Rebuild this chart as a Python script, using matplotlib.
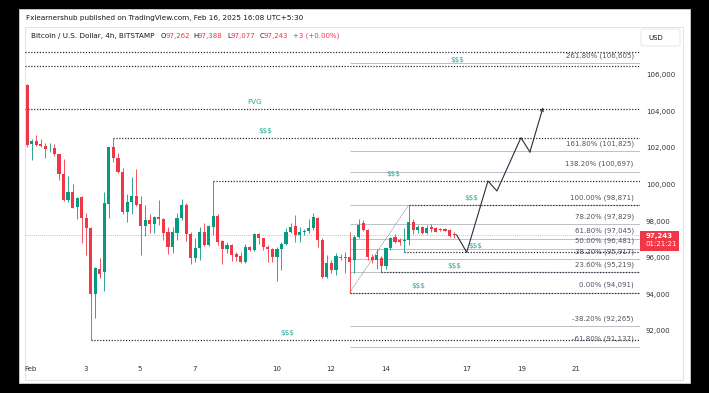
import numpy as np
import matplotlib.pyplot as plt
from matplotlib.patches import Rectangle, FancyBboxPatch

plt.rcParams['font.family'] = ['DejaVu Sans']
plt.rcParams['text.parse_math'] = False

W, H = 709, 393

# 4h candles, BTC/USD Bitstamp, starting Jan 31 late evening
opens = [105450, 102190, 102370, 102190, 102110, 101970, 102010, 101640, 100570, 99130,
         99570, 98790, 99330, 98150, 97640, 94040, 95380, 95200, 98930, 102030,
         101420, 100660, 98480, 99060, 99390, 98910, 97730, 98060, 97840, 98240,
         98090, 97420, 96570, 97330, 98150, 98880, 97290, 95960, 96510, 97420,
         96690, 97690, 98270, 96910, 96470, 96690, 96180, 96090, 95780, 96560,
         96420, 97290, 97060, 96600, 96470, 96020, 96470, 96750, 97420, 97730,
         97240, 97380, 97460, 97600, 98180, 96970, 94960, 95690, 95330, 96060,
         95970, 96060, 95900, 97150, 97870, 97510, 96060, 95900, 95970, 95550,
         96510, 97150, 96960, 96900, 96980, 97970, 97510, 97660, 97370, 97650,
         97600, 97550, 97550, 97510, 97262]
highs = [105500, 102480, 102700, 102480, 102240, 102240, 102210, 101680, 101390, 100460,
         100000, 99330, 99390, 98420, 97700, 95500, 95980, 99600, 102050, 102550,
         101700, 100880, 99460, 100420, 100820, 99390, 98880, 98370, 98290, 99150,
         98150, 97650, 97660, 98460, 99190, 99000, 97400, 97060, 97660, 97880,
         97760, 100200, 98380, 96970, 96870, 96750, 96330, 96330, 96750, 96640,
         97330, 97370, 97100, 96690, 96520, 96560, 96870, 97600, 97910, 98330,
         97660, 97550, 98090, 98460, 98240, 97060, 96150, 95900, 96250, 96200,
         96330, 97380, 97240, 98090, 98060, 97560, 96200, 96450, 96100, 96550,
         97150, 97300, 97050, 97600, 98871, 98100, 97800, 97750, 97800, 97850,
         97700, 97620, 97620, 97560, 97388]
lows = [102050, 101330, 102120, 102060, 101420, 101750, 101570, 100240, 99090, 99020,
        98690, 98110, 96780, 96150, 91500, 92720, 94870, 94200, 98150, 101250,
        100600, 98370, 97930, 98370, 98820, 96150, 97200, 97330, 97330, 97780,
        96960, 96180, 96270, 96960, 98060, 96930, 95650, 95780, 95870, 96640,
        96640, 97240, 96690, 95640, 96240, 95840, 95840, 95690, 95690, 96380,
        96380, 96750, 96420, 95780, 95780, 94730, 95330, 96690, 97360, 96870,
        96870, 97240, 97370, 97510, 96600, 94900, 94900, 95150, 95050, 95850,
        95150, 94091, 95150, 97100, 97450, 95870, 95700, 95400, 95200, 95400,
        96400, 96800, 96700, 96300, 96700, 97300, 97350, 97300, 97300, 97420,
        97380, 97450, 97430, 97150, 97077]
closes = [102150, 102390, 102150, 102100, 101930, 102010, 101640, 100570, 99130, 99600,
          98730, 99280, 98150, 97600, 94040, 95450, 95130, 98990, 102030, 101420,
          100660, 98480, 99020, 99390, 98880, 97730, 98060, 97840, 98240, 98110,
          97330, 96570, 97380, 98150, 98880, 97290, 95960, 96510, 97420, 96690,
          97730, 98270, 96870, 96460, 96690, 96150, 96020, 95780, 96560, 96420,
          97290, 97060, 96570, 96470, 96020, 96470, 96750, 97420, 97660, 97240,
          97380, 97460, 97600, 98240, 96970, 94960, 95690, 95330, 96110, 95970,
          96060, 95780, 97150, 97780, 97510, 96060, 95880, 96150, 95550, 96510,
          97050, 96870, 96870, 96980, 97970, 97510, 97690, 97370, 97640, 97560,
          97420, 97500, 97470, 97190, 97243]
first_day = 0.86          # day-of-February of candle 0
candle_step = 1 / 6       # 4 hours

# fib retracement (swing low candle 71 -> swing high candle 84)
fib_pcts = ['-61.80%', '-38.20%', '0.00%', '23.60%', '38.20%', '50.00%', '61.80%',
            '78.20%', '100.00%', '138.20%', '161.80%', '261.80%']
fib_prices = [91137, 92265, 94091, 95219, 95917, 96481, 97045, 97829, 98871,
              100697, 101825, 106605]
fib_from, fib_to = 71, 84

# liquidity levels: price, candle where the line starts (None = whole chart), label
liq_prices = [107250, 106450, 104117, 102550, 100200, 98871, 96300, 95200, 94091, 91500]
liq_start = [None, None, None, 19, 41, 84, 83, 78, 71, 14]
liq_label = ['', '$$$', 'FVG', '$$$', '$$$', '$$$', '$$$', '$$$', '$$$', '$$$']
liq_label_day = [None, 16.63, 9.2, 9.6, 14.3, 17.15, 17.3, 16.52, 15.2, 10.4]

# projected path
proj_days = [16.62, 16.99, 17.77, 18.10, 18.98, 19.31, 19.79]
proj_prices = [97243, 96293, 100186, 99640, 102550, 101770, 104200]

last_price = 97243
price_ticks = [92000, 94000, 96000, 98000, 100000, 102000, 104000, 106000]
date_ticks = [1, 3, 5, 7, 10, 12, 14, 17, 19, 21]
date_labels = ['Feb', '3', '5', '7', '10', '12', '14', '17', '19', '21']

UP, DOWN = '#089981', '#F23645'
TEAL = '#22ab94'
TXT = '#131722'
FS = 5.0


def fx(px):
    return px / W


def fy(py):
    return 1 - py / H


fig = plt.figure(figsize=(W / 100, H / 100), dpi=100, facecolor='black')
fig.add_artist(Rectangle((fx(19), fy(383)), fx(690) - fx(19), fy(9) - fy(383),
                         transform=fig.transFigure, facecolor='white', edgecolor='#cfd2d9',
                         lw=0.6, zorder=-20))
fig.add_artist(Rectangle((fx(25), fy(380)), fx(683) - fx(25), fy(27) - fy(380),
                         transform=fig.transFigure, facecolor='white', edgecolor='#e0e3eb',
                         lw=0.7, zorder=-19))

ax = fig.add_axes([fx(25), fy(358), fx(640) - fx(25), fy(28) - fy(358)])
ax.set_facecolor('none')
for s in ax.spines.values():
    s.set_visible(False)
xmin, xmax = 0.78, 23.35
ax.set_xlim(xmin, xmax)
ax.set_ylim(90522, 108540)

o = np.array(opens, float)
h = np.array(highs, float)
l = np.array(lows, float)
c = np.array(closes, float)
days = first_day + np.arange(len(o)) * candle_step
cols = np.where(c >= o, UP, DOWN)

# current price line
ax.axhline(last_price, color=DOWN, lw=0.6, ls=(0, (1, 1.5)), alpha=0.55, zorder=1)

# fib lines
f0 = days[fib_from]
for pct, p in zip(fib_pcts, fib_prices):
    ax.hlines(p, f0, xmax, colors='#b2b5be', lw=0.6, zorder=1)
    ax.text(23.12, p + 420, f'{pct} ({p:,})', ha='right', va='center',
            fontsize=FS, color='#50535e')
ax.plot([f0, days[fib_to]], [fib_prices[2], fib_prices[8]],
        color='#9598a1', lw=0.6, ls=(0, (2, 1)), zorder=1)

# liquidity lines
for p, st, lab, ld in zip(liq_prices, liq_start, liq_label, liq_label_day):
    x0 = xmin if st is None else days[st]
    ax.hlines(p, x0, xmax, colors='#2a2e39', lw=0.9, ls=(0, (1, 1.3)), zorder=2)
    if lab:
        ax.text(ld, p + 360, lab, ha='center', va='center', fontsize=5.2, color=TEAL)

# candles
ax.vlines(days, l, h, colors=cols, lw=0.6, zorder=3)
body = np.maximum(np.abs(c - o), 45)
ax.bar(days, body, bottom=np.minimum(o, c), width=0.115, color=cols, lw=0, zorder=4)

# projection
ax.plot(proj_days[:-1], proj_prices[:-1], color='#2a2e39', lw=0.8, zorder=5)
ax.annotate('', xy=(proj_days[-1], proj_prices[-1]), xytext=(proj_days[-2], proj_prices[-2]),
            arrowprops=dict(arrowstyle='->', color='#2a2e39', lw=0.8, mutation_scale=5,
                            shrinkA=0, shrinkB=0), zorder=5)

# axes ticks
ax.yaxis.tick_right()
ax.set_yticks(price_ticks)
ax.set_yticklabels([f'{v:,}' for v in price_ticks])
ax.tick_params(axis='y', length=0, pad=4.3, labelsize=FS, labelcolor='#333')
ax.set_xticks(date_ticks)
ax.set_xticklabels(date_labels)
ax.tick_params(axis='x', length=0, pad=6.0, labelsize=FS, labelcolor='#333')

# header
fig.text(fx(26), fy(18.3), 'Fxlearnershub published on TradingView.com, Feb 16, 2025 16:08 UTC+5:30',
         fontsize=5.2, color=TXT, va='center')
fig.text(fx(31), fy(36), 'Bitcoin / U.S. Dollar, 4h, BITSTAMP', fontsize=5.2, color=TXT, va='center')
for lx, letter, nx, num in [(161, 'O', 165.3, '97,262'), (193.3, 'H', 197.7, '97,388'),
                            (227, 'L', 230.3, '97,077'), (259.3, 'C', 263.7, '97,243')]:
    fig.text(fx(lx), fy(36), letter, fontsize=FS, color=TXT, va='center')
    fig.text(fx(nx), fy(36), num, fontsize=FS, color=DOWN, va='center')
fig.text(fx(293.3), fy(36), '+3 (+0.00%)', fontsize=FS, color=DOWN, va='center')

# USD box
fig.add_artist(FancyBboxPatch((fx(641), fy(46)), fx(680) - fx(641), fy(29) - fy(46),
                              boxstyle='round,pad=0,rounding_size=0.004', transform=fig.transFigure,
                              facecolor='white', edgecolor='#e0e3eb', lw=0.6))
fig.text(fx(648), fy(38), 'USD', fontsize=FS, color=TXT, va='center')

# last price tag
fig.add_artist(Rectangle((fx(640), fy(251)), fx(679) - fx(640), fy(231) - fy(251),
                         transform=fig.transFigure, facecolor=DOWN, edgecolor='none'))
fig.text(fx(646), fy(235.5), f'{last_price:,}', fontsize=FS, color='white', va='center',
         fontweight='bold')
fig.text(fx(646), fy(244.5), '01:21:21', fontsize=FS, color='white', va='center')

fig.savefig('out.png', dpi=100, facecolor='black')
